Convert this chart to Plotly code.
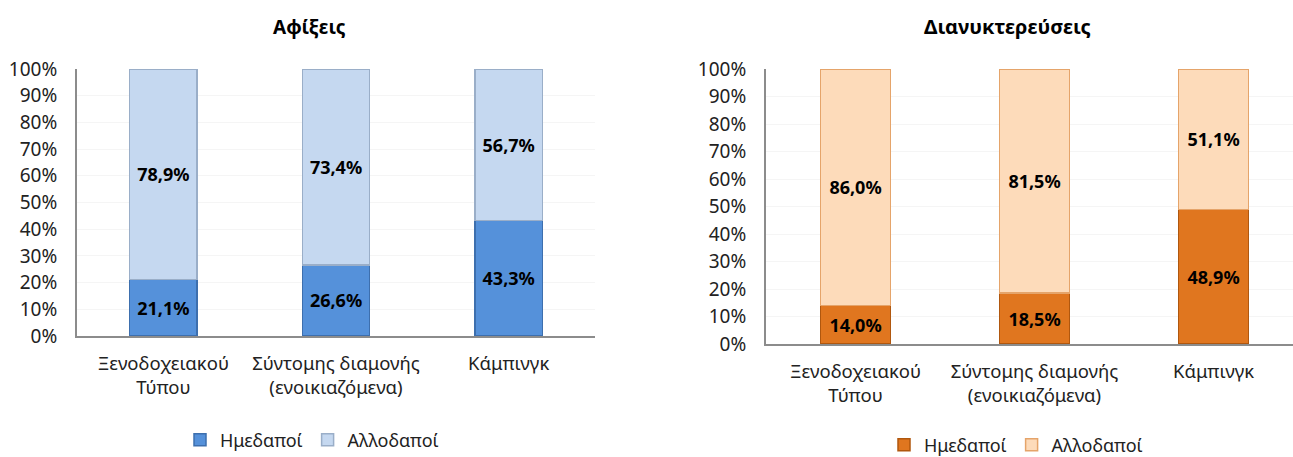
import plotly.graph_objects as go

categories = ["Ξενοδοχειακού<br>Τύπου", "Σύντομης διαμονής<br>(ενοικιαζόμενα)", "Κάμπινγκ"]
series_names = ["Ημεδαποί", "Αλλοδαποί"]
arrivals_domestic = [21.1, 26.6, 43.3]
arrivals_foreign = [78.9, 73.4, 56.7]
nights_domestic = [14.0, 18.5, 48.9]
nights_foreign = [86.0, 81.5, 51.1]
yticks = list(range(0, 101, 10))
ytick_labels = [f"{v}%" for v in yticks]

FONT = "Noto Sans"
W, H = 1293, 457

def lbl(vals):
    return [f"{v:.1f}%".replace(".", ",") for v in vals]

LABEL_FONT = dict(family=FONT, size=18, color="black", weight="bold")

fig = go.Figure()

# Left chart: arrivals
fig.add_trace(go.Bar(x=categories, y=arrivals_domestic, name=series_names[0],
                     marker=dict(color="#5591DA", line=dict(color="#3D6FAE", width=1.5)),
                     text=lbl(arrivals_domestic), textposition="inside", insidetextanchor="middle",
                     textfont=LABEL_FONT, cliponaxis=False,
                     xaxis="x", yaxis="y", legend="legend", width=0.39))
fig.add_trace(go.Bar(x=categories, y=arrivals_foreign, name=series_names[1],
                     marker=dict(color="#C5D8F0", line=dict(color="#9AAEC8", width=1.5)),
                     text=lbl(arrivals_foreign), textposition="inside", insidetextanchor="middle",
                     textfont=LABEL_FONT, cliponaxis=False,
                     xaxis="x", yaxis="y", legend="legend", width=0.39))

# Right chart: overnight stays
fig.add_trace(go.Bar(x=categories, y=nights_domestic, name=series_names[0],
                     marker=dict(color="#E0761F", line=dict(color="#B0570E", width=1.5)),
                     text=lbl(nights_domestic), textposition="inside", insidetextanchor="middle",
                     textfont=LABEL_FONT, cliponaxis=False,
                     xaxis="x2", yaxis="y2", legend="legend2", width=0.39))
fig.add_trace(go.Bar(x=categories, y=nights_foreign, name=series_names[1],
                     marker=dict(color="#FDDBBA", line=dict(color="#E5A46A", width=1.5)),
                     text=lbl(nights_foreign), textposition="inside", insidetextanchor="middle",
                     textfont=LABEL_FONT, cliponaxis=False,
                     xaxis="x2", yaxis="y2", legend="legend2", width=0.39))

axis_common_y = dict(range=[0, 100], tickvals=yticks, ticktext=ytick_labels, showgrid=True,
                     gridcolor="#F5F5F5", gridwidth=1, showline=True, linecolor="#8C8C8C",
                     linewidth=2, ticks="", zeroline=False, automargin=False,
                     ticklabelstandoff=14,
                     tickfont=dict(family=FONT, size=19, color="#222222"))
axis_common_x = dict(type="category", showline=True, linecolor="#8C8C8C", linewidth=2,
                     ticks="", showgrid=False, automargin=False, ticklabelstandoff=10,
                     tickfont=dict(family=FONT, size=18.5, color="#222222"))

fig.update_layout(
    width=W, height=H, autosize=False,
    margin=dict(l=0, r=0, t=0, b=0, pad=0, autoexpand=False),
    paper_bgcolor="white", plot_bgcolor="white",
    barmode="stack", separators=",.",
    showlegend=True,
    xaxis=dict(domain=[77 / W, 595 / W], range=[-0.5, 2.5], anchor="y", **axis_common_x),
    yaxis=dict(domain=[(H - 336) / H, (H - 69) / H], anchor="x", **axis_common_y),
    xaxis2=dict(domain=[766 / W, 1.0], range=[-0.5, 2.444], anchor="y2", **axis_common_x),
    yaxis2=dict(domain=[(H - 344) / H, (H - 69) / H], anchor="x2", **axis_common_y),
    legend=dict(orientation="h", x=312 / W, y=(H - 440) / H, xanchor="center", yanchor="middle",
                font=dict(family=FONT, size=18, color="#222222"), itemwidth=30,
                traceorder="normal", bgcolor="rgba(0,0,0,0)"),
    legend2=dict(orientation="h", x=1016 / W, y=(H - 445) / H, xanchor="center", yanchor="middle",
                 font=dict(family=FONT, size=18, color="#222222"), itemwidth=30,
                 traceorder="normal", bgcolor="rgba(0,0,0,0)"),
    annotations=[
        dict(text="<b>Αφίξεις</b>", x=309 / W, y=(H - 27) / H, xref="paper", yref="paper",
             xanchor="center", yanchor="middle",
             showarrow=False, font=dict(family=FONT, size=19, color="black")),
        dict(text="<b>Διανυκτερεύσεις</b>", x=1007 / W, y=(H - 26) / H, xref="paper", yref="paper",
             xanchor="center", yanchor="middle",
             showarrow=False, font=dict(family=FONT, size=20, color="black")),
    ],
)

fig.write_html("out.html", config={"displayModeBar": False},
               post_script="document.body.style.margin='0';document.body.style.overflow='hidden';")
